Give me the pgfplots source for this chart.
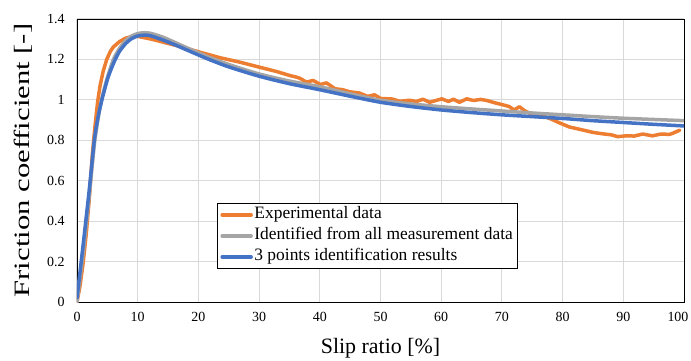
\documentclass[border=0pt]{standalone}
\usepackage{pgfplots}
\pgfplotsset{compat=1.18}
\usepackage{graphicx}
\usepackage{fontspec}
\setmainfont{Liberation Serif}

\definecolor{exporange}{HTML}{ED7D31}
\definecolor{allgray}{HTML}{A5A5A5}
\definecolor{threeblue}{HTML}{4472C4}
\definecolor{gridgray}{HTML}{D9D9D9}

\begin{document}
\begin{tikzpicture}
\begin{axis}[
  scale only axis,
  width=607bp, height=283bp,
  xmin=0, xmax=100, ymin=0, ymax=1.4,
  xtick={0,10,...,100},
  xticklabels={0,10,20,30,40,50,60,70,80,90,\rlap{\kern-16.5bp 100}},
  ytick={0,0.2,...,1.4},
  yticklabels={0,0.2,0.4,0.6,0.8,1,1.2,1.4},
  grid=major,
  major grid style={draw=gridgray, line width=1bp},
  axis line style={draw=black, line width=0.9bp},
  tick style={draw=none},
  /pgf/number format/assume math mode=true,
  ticklabel style={font=\rmfamily\fontsize{14}{14}\selectfont},
  xticklabel style={yshift=-7bp},
  yticklabel style={xshift=-9bp},
  xlabel={Slip ratio [\%]},
  ylabel={\scalebox{1.4}[1]{Friction coefficient [-]}},
  label style={font=\rmfamily\fontsize{22}{22}\selectfont},
  xlabel style={yshift=-10bp},
  ylabel style={yshift=8bp},
  legend cell align=left,
  legend style={
    at={(rel axis cs:0.2306,0.35)}, anchor=north west,
    draw=black, line width=0.9bp,
    inner xsep=3bp, inner ysep=1bp, row sep=0bp,
    nodes={inner xsep=1.5bp, inner ysep=2.5bp, text height=12bp, text depth=4bp,
           font=\rmfamily\fontsize{17.5}{17.5}\selectfont},
  },
  legend image code/.code={\draw[#1, line width=3.5bp] (0bp,0bp) -- (29bp,0bp);},
  every axis plot/.append style={line width=3.5bp, line join=round, line cap=round},
]

% measured friction coefficient
\addplot[exporange, mark=none] coordinates {
(0,0) (0.5,0.08) (1,0.19) (1.5,0.33) (2,0.5) (2.5,0.72) (3,0.88) (3.4,0.99)
(3.8,1.07) (4.3,1.14) (4.9,1.2) (5.5,1.24) (6,1.262) (7,1.288) (8,1.305)
(9,1.313) (10,1.314) (11,1.308) (12,1.302) (13.1,1.294) (15,1.279) (17,1.264)
(20,1.238) (23.6,1.208) (26.9,1.186) (30,1.162) (32.9,1.140) (35.1,1.12)
(36.2,1.112) (36.7,1.107) (37.8,1.088) (38.9,1.096) (40.1,1.076) (41.1,1.084)
(42.5,1.055) (43.8,1.05) (44.9,1.04) (46.5,1.034) (47.9,1.017) (49,1.025)
(50.1,1.006) (51.8,1.005) (53.2,0.993) (54.8,0.998) (55.9,0.992) (57,1.003)
(58.1,0.988) (60.1,1.005) (61.2,0.992) (62,1.003) (63,0.988) (64.2,1.005)
(65.3,0.997) (66.5,1.002) (67.5,0.997) (68.9,0.985) (70.1,0.976) (71.2,0.967)
(72,0.95) (72.9,0.966) (73.7,0.947) (74.5,0.935) (76.2,0.926) (77.8,0.909)
(79.5,0.886) (81.1,0.866) (83.3,0.851) (85,0.839) (86.6,0.832) (88,0.827)
(89.1,0.818) (90.5,0.822) (91.8,0.821) (93.2,0.831) (94.8,0.822) (96.2,0.831)
(97.6,0.829) (98.1,0.834) (99.3,0.85)
};
\addlegendentry{Experimental data}

% model fitted to the full data set
\addplot[allgray, mark=none, smooth, tension=0.4] coordinates {
(0,0) (1,0.24) (2,0.52) (2.9,0.79) (3.6,0.93) (4.2,1.02) (5,1.11) (6,1.2)
(7,1.255) (8,1.292) (9,1.316) (10,1.328) (11,1.332) (12,1.33) (14,1.312)
(16,1.286) (18,1.259) (20,1.233) (22,1.208) (25,1.175) (30,1.128) (35,1.093)
(40,1.065) (45,1.03) (50,0.998) (55,0.98) (60,0.966) (65,0.955) (70,0.945)
(75,0.935) (80,0.926) (85,0.917) (90,0.909) (95,0.903) (100,0.897)
};
\addlegendentry{Identified from all measurement data}

% model fitted to three points
\addplot[threeblue, mark=none, smooth, tension=0.4] coordinates {
(0,0.02) (1,0.28) (2,0.55) (2.85,0.8) (3.5,0.92) (4.1,1.0) (5,1.1) (5.6,1.15)
(6.3,1.2) (7,1.24) (8,1.278) (9,1.303) (10,1.316) (11,1.32) (12,1.318)
(14,1.298) (16,1.274) (18,1.248) (20,1.222) (22,1.197) (25,1.163) (30,1.117)
(35,1.08) (40,1.05) (45,1.018) (50,0.988) (55,0.967) (60,0.950) (65,0.937)
(70,0.926) (75,0.917) (80,0.908) (85,0.897) (90,0.888) (95,0.879) (100,0.871)
};
\addlegendentry{3 points identification results}
\end{axis}
\pgfresetboundingbox
\path (-77bp,-59bp) rectangle (614bp,302bp);
\end{tikzpicture}
\end{document}
